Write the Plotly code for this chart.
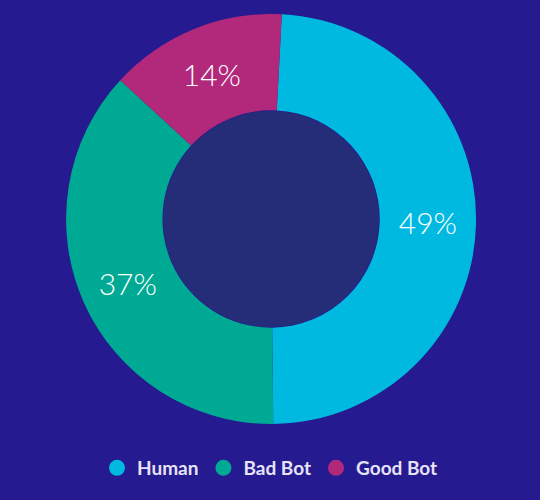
import plotly.graph_objects as go

labels = ["Human", "Bad Bot", "Good Bot"]
values = [49, 37, 14]
colors = ["#00b9e1", "#00a993", "#b2297b"]

BG = "#251a8f"
HOLE = "#252d78"

fig = go.Figure()

fig.add_trace(
    go.Pie(
        labels=labels,
        values=values,
        hole=0.53,
        sort=False,
        direction="clockwise",
        rotation=3,
        marker={"colors": colors, "line": {"width": 0}},
        textinfo="percent",
        texttemplate="%{value}%",
        textposition="inside",
        insidetextorientation="horizontal",
        textfont={"family": "Lato", "size": 30, "color": "#ffffff", "weight": 300},
        showlegend=False,
        hoverinfo="label+percent",
        domain={"x": [0.122, 0.882], "y": [0.152, 0.972]},
    )
)

# circle legend entries (pie legend only draws squares)
for name, color in zip(labels, colors):
    fig.add_trace(
        go.Scatter(
            x=[None],
            y=[None],
            mode="markers",
            name=name,
            marker={"symbol": "circle", "color": color, "size": 16},
        )
    )

fig.update_layout(
    width=540,
    height=500,
    margin={"l": 0, "r": 0, "t": 0, "b": 0},
    paper_bgcolor=BG,
    plot_bgcolor=BG,
    xaxis={"visible": False},
    yaxis={"visible": False},
    legend={
        "orientation": "h",
        "x": 0.5,
        "xanchor": "center",
        "y": 0.064,
        "yanchor": "middle",
        "font": {"family": "Lato", "size": 19, "color": "#e6e2f7", "weight": "bold"},
        "itemsizing": "trace",
        "itemwidth": 30,
        "bgcolor": "rgba(0,0,0,0)",
    },
    shapes=[
        {
            "type": "circle",
            "xref": "paper",
            "yref": "paper",
            "x0": (271 - 108) / 540,
            "x1": (271 + 108) / 540,
            "y0": (281 - 108) / 500,
            "y1": (281 + 108) / 500,
            "fillcolor": HOLE,
            "line": {"width": 0},
            "layer": "below",
        }
    ],
)

fig.write_html(
    "out.html",
    config={"displayModeBar": False},
    post_script="document.body.style.margin='0';",
)
